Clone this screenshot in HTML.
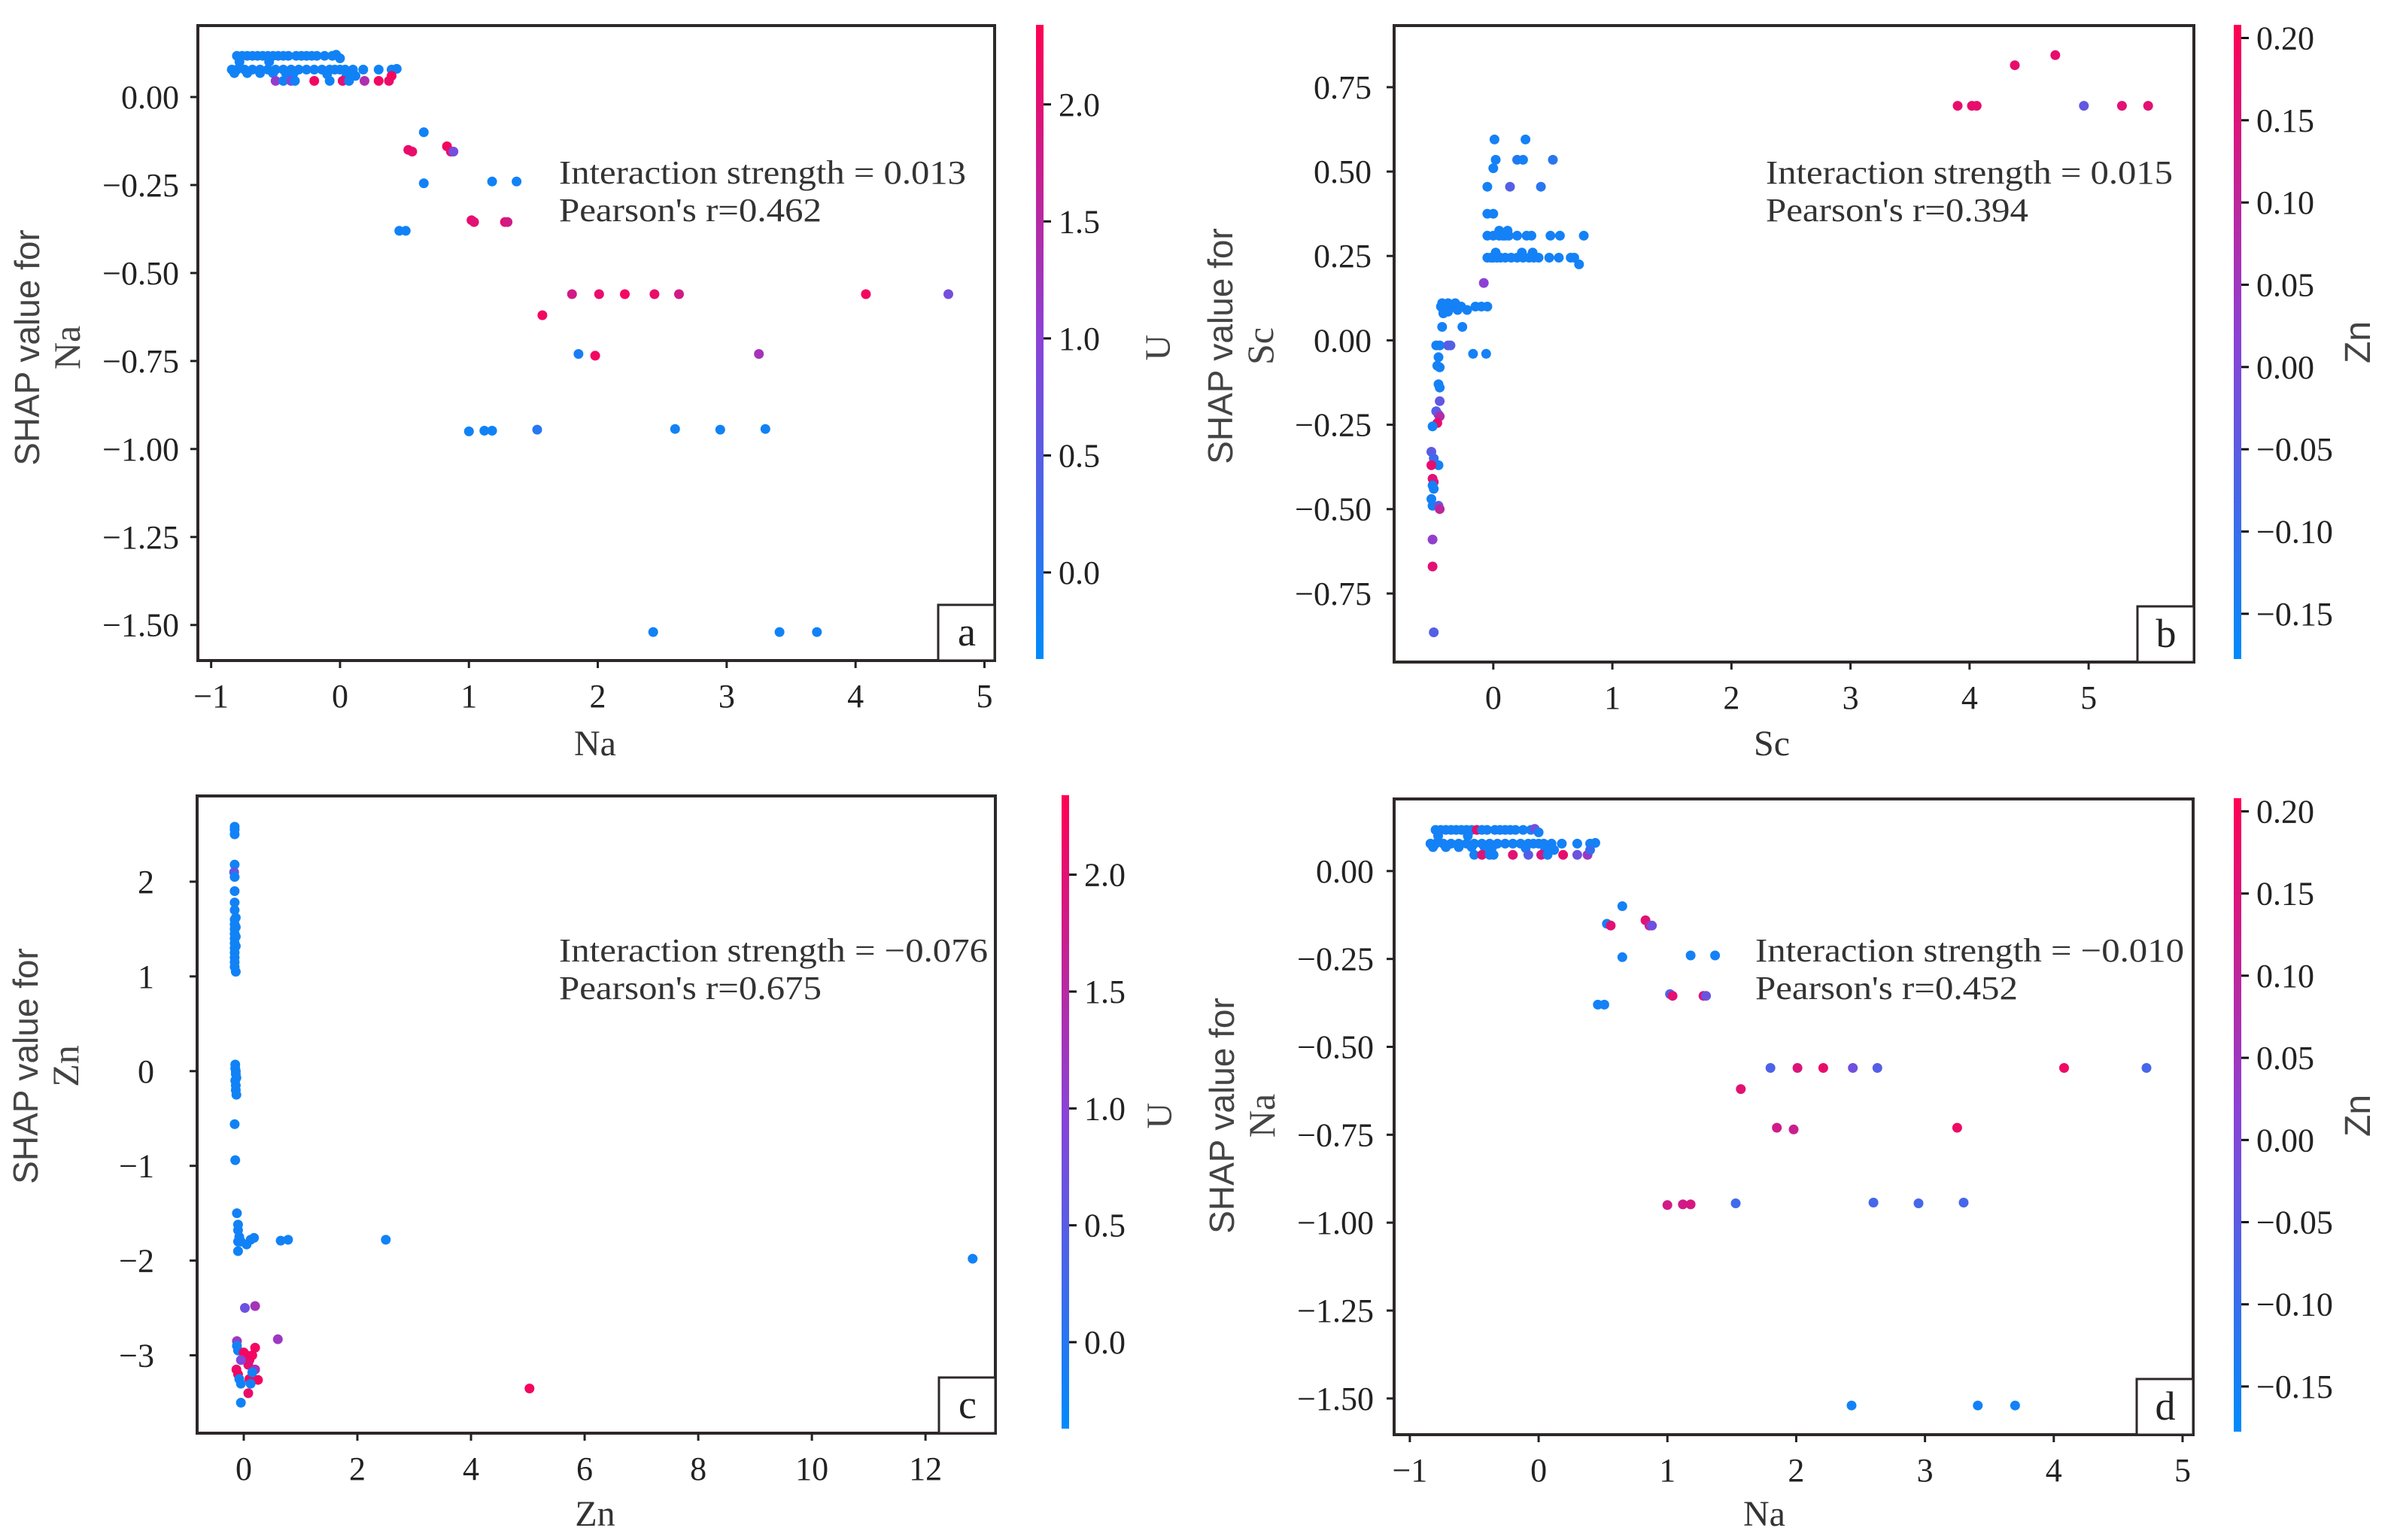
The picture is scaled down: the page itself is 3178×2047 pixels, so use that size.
<!DOCTYPE html>
<html><head><meta charset="utf-8"><title>SHAP dependence plots</title>
<style>
html,body{margin:0;padding:0;background:#fff;}
svg{display:block;}
</style></head>
<body>
<svg id="fig" xmlns="http://www.w3.org/2000/svg" width="3178" height="2047" viewBox="0 0 3178 2047">
<defs>
<linearGradient id="shapcm" x1="0" y1="1" x2="0" y2="0">
<stop offset="0" stop-color="rgb(0,139,251)"/>
<stop offset="0.5" stop-color="rgb(138,67,215)"/>
<stop offset="1" stop-color="rgb(255,0,82)"/>
</linearGradient>
</defs>
</svg>
<script>
// ---------- DATA ----------
const naX = [-0.80,-0.76,-0.72,-0.68,-0.64,-0.60,-0.56,-0.52,-0.48,-0.44,-0.40,-0.34,-0.30,-0.26,-0.22,-0.18,-0.12,-0.06,-0.03,0.0,
 -0.84,-0.80,-0.74,-0.68,-0.62,-0.56,-0.50,-0.44,-0.38,-0.32,-0.26,-0.20,-0.14,-0.08,-0.04,0.0,0.04,0.10,0.18,0.30,0.40,0.44,
 -0.82,-0.72,-0.62,-0.52,-0.42,-0.36,-0.10,0.05,0.12,-0.78,-0.55,
 -0.50,-0.44,-0.38,-0.35,-0.20,-0.08,0.02,0.07,0.19,0.30,0.38,0.40,
 0.65,0.53,0.56,0.83,0.86,0.88,0.65,1.18,1.37,0.46,0.51,1.02,1.04,1.28,1.30,
 1.80,2.01,2.21,2.44,2.63,4.08,4.72,1.57,1.85,1.98,3.25,
 1.00,1.12,1.18,1.53,2.60,2.95,3.30,2.43,3.41,3.70];
const naY = [0.117,0.117,0.117,0.117,0.117,0.117,0.117,0.117,0.117,0.117,0.117,0.117,0.117,0.117,0.117,0.117,0.117,0.117,0.12,0.11,
 0.078,0.078,0.078,0.078,0.078,0.078,0.078,0.078,0.078,0.078,0.078,0.078,0.078,0.078,0.078,0.078,0.078,0.078,0.078,0.078,0.078,0.08,
 0.068,0.068,0.068,0.068,0.068,0.068,0.065,0.06,0.06,0.10,0.10,
 0.046,0.046,0.046,0.046,0.046,0.046,0.046,0.046,0.046,0.046,0.046,0.06,
 -0.10,-0.15,-0.155,-0.14,-0.155,-0.155,-0.245,-0.24,-0.24,-0.38,-0.38,-0.35,-0.355,-0.355,-0.355,
 -0.56,-0.56,-0.56,-0.56,-0.56,-0.56,-0.56,-0.62,-0.73,-0.735,-0.73,
 -0.95,-0.948,-0.948,-0.945,-0.943,-0.945,-0.943,-1.52,-1.52,-1.52];
const naU = [-0.2,-0.2,-0.2,-0.2,-0.2,-0.2,-0.2,-0.2,-0.2,-0.2,-0.2,-0.2,-0.2,-0.2,-0.2,-0.2,-0.2,-0.2,-0.2,-0.2,
 -0.2,-0.2,-0.2,-0.2,-0.2,-0.2,-0.2,-0.2,-0.2,-0.2,-0.2,-0.2,-0.2,-0.2,-0.2,-0.2,-0.2,-0.2,-0.2,-0.2,-0.2,-0.2,
 -0.2,-0.2,-0.2,-0.2,-0.2,-0.2,-0.2,-0.2,-0.2,-0.2,-0.2,
 1.1,-0.2,0.9,-0.2,2.2,-0.2,2.0,-0.2,1.4,2.2,2.1,2.2,
 -0.2,2.1,2.1,2.2,2.0,0.8,-0.2,-0.2,-0.2,-0.2,-0.2,2.1,2.0,2.1,1.8,
 1.8,2.1,2.2,2.1,1.8,2.2,0.8,2.2,-0.1,2.2,1.3,
 -0.2,-0.2,-0.2,0.0,-0.2,-0.2,-0.2,-0.2,-0.2,-0.2];
const naZn = [-0.15,-0.15,-0.15,-0.15,-0.15,-0.15,-0.15,-0.15,0.17,-0.15,-0.15,-0.15,-0.15,-0.15,-0.15,-0.15,-0.15,-0.15,-0.02,-0.15,
 -0.15,-0.15,-0.15,-0.15,-0.15,-0.15,-0.15,-0.15,-0.15,-0.15,-0.15,-0.15,-0.15,-0.15,-0.15,-0.15,-0.15,-0.15,-0.15,-0.15,-0.15,-0.15,
 -0.15,-0.15,-0.15,-0.15,-0.15,-0.15,-0.15,-0.15,-0.15,-0.15,-0.15,
 -0.15,0.15,-0.15,-0.15,0.16,-0.06,0.14,-0.15,0.17,-0.03,0.05,-0.10,
 -0.15,-0.15,0.16,0.16,0.10,-0.02,-0.15,-0.15,-0.15,-0.15,-0.15,-0.07,0.16,0.15,-0.03,
 -0.07,0.15,0.17,-0.02,-0.06,0.18,-0.08,0.16,0.13,0.12,0.18,
 0.13,0.13,0.14,-0.09,-0.08,-0.08,-0.08,-0.15,-0.15,-0.15];
const scX = [3.90,4.02,4.06,4.38,4.72,4.96,5.28,5.50,
 0.01,0.27,0.02,0.20,0.25,0.50,0.00,-0.05,0.14,0.40,-0.05,0.00,
 -0.05,0.0,0.05,0.08,0.10,0.13,0.20,0.28,0.32,0.48,0.56,0.76,0.05,0.12,
 -0.05,-0.02,0.0,0.03,0.06,0.10,0.15,0.20,0.25,0.30,0.34,0.38,0.47,0.55,0.65,0.68,0.72,0.02,0.24,0.33,
 -0.08,
 -0.44,-0.43,-0.42,-0.40,-0.38,-0.35,-0.32,-0.30,-0.27,-0.22,-0.15,-0.10,-0.05,-0.42,-0.38,
 -0.43,-0.26,-0.17,-0.06,-0.48,-0.45,-0.38,-0.36,-0.46,-0.47,-0.45,-0.46,-0.45,
 -0.45,-0.48,-0.46,-0.45,-0.47,-0.51,-0.52,-0.50,-0.46,-0.52,-0.51,-0.50,-0.51,-0.50,-0.52,-0.51,-0.46,-0.45,-0.51,-0.51,-0.50];
const scY = [0.695,0.695,0.695,0.815,0.845,0.695,0.695,0.695,
 0.595,0.595,0.535,0.535,0.535,0.535,0.51,0.455,0.455,0.455,0.375,0.375,
 0.31,0.31,0.31,0.31,0.31,0.31,0.31,0.31,0.31,0.31,0.31,0.31,0.325,0.325,
 0.245,0.245,0.245,0.245,0.245,0.245,0.245,0.245,0.245,0.245,0.245,0.245,0.245,0.245,0.245,0.245,0.225,0.26,0.26,0.26,
 0.17,
 0.10,0.11,0.09,0.10,0.11,0.10,0.11,0.09,0.10,0.09,0.10,0.10,0.10,0.08,0.085,
 0.04,0.04,-0.04,-0.04,-0.015,-0.015,-0.015,-0.015,-0.05,-0.075,-0.08,-0.13,-0.14,
 -0.18,-0.21,-0.22,-0.225,-0.245,-0.255,-0.33,-0.35,-0.37,-0.37,-0.41,-0.42,-0.43,-0.44,-0.47,-0.49,-0.49,-0.50,-0.59,-0.67,-0.865];
const scZn = [0.17,0.17,0.17,0.17,0.17,-0.04,0.16,0.16,
 -0.15,-0.15,-0.15,-0.13,-0.15,-0.12,-0.15,-0.15,-0.06,-0.12,-0.15,-0.15,
 -0.15,-0.15,-0.15,-0.15,-0.15,-0.15,-0.15,-0.15,-0.15,-0.15,-0.15,-0.15,-0.15,-0.15,
 -0.15,-0.15,-0.15,-0.15,-0.15,-0.15,-0.15,-0.15,-0.15,-0.15,-0.15,-0.15,-0.15,-0.15,-0.15,-0.15,-0.15,-0.15,-0.15,-0.15,
 0.02,
 -0.15,-0.15,-0.15,-0.15,-0.15,-0.15,-0.15,-0.15,-0.15,-0.15,-0.15,-0.15,-0.15,-0.15,-0.15,
 -0.15,-0.15,-0.15,-0.15,-0.15,-0.15,-0.06,-0.06,-0.15,-0.15,-0.15,-0.15,-0.15,
 -0.04,-0.06,-0.04,0.08,0.17,-0.15,-0.05,-0.09,-0.15,0.17,0.16,0.15,-0.15,-0.15,-0.15,-0.15,-0.05,0.10,0.03,0.16,-0.06];
const znX = [-0.16,-0.16,-0.16,-0.16,-0.17,-0.16,-0.16,-0.16,-0.16,-0.16,-0.16,-0.16,-0.16,-0.16,-0.16,-0.16,-0.16,-0.16,-0.16,-0.16,-0.14,-0.14,-0.14,-0.14,-0.14,
 -0.15,-0.15,-0.14,-0.14,-0.13,-0.15,-0.14,-0.14,-0.13,-0.16,-0.15,
 -0.12,-0.10,-0.10,-0.08,-0.10,-0.05,0.05,0.12,0.18,-0.10,0.65,0.78,2.50,12.83,
 0.02,0.20,0.60,-0.12,-0.12,-0.10,0.0,0.05,0.10,0.15,0.20,0.08,-0.05,-0.13,-0.10,-0.08,-0.05,0.10,0.25,0.20,0.15,0.12,0.08,-0.05,5.03];
const znY = [2.58,2.55,2.50,2.18,2.10,2.05,1.90,1.78,1.70,1.60,1.55,1.50,1.45,1.40,1.35,1.30,1.25,1.20,1.15,1.10,1.62,1.52,1.42,1.32,1.05,
 0.07,0.03,0.0,-0.03,-0.07,-0.10,-0.15,-0.20,-0.25,-0.56,-0.94,
 -1.50,-1.62,-1.68,-1.75,-1.80,-1.80,-1.83,-1.78,-1.76,-1.90,-1.79,-1.78,-1.78,-1.98,
 -2.50,-2.48,-2.83,-2.85,-2.90,-2.95,-2.97,-3.00,-3.05,-3.00,-2.92,-3.10,-3.05,-3.15,-3.20,-3.25,-3.30,-3.25,-3.26,-3.15,-3.18,-3.30,-3.40,-3.50,-3.35];
const znU = [-0.2,-0.2,-0.2,-0.2,0.6,-0.2,-0.2,-0.2,-0.2,-0.2,-0.2,-0.2,-0.2,-0.2,-0.2,-0.2,-0.2,-0.2,-0.2,-0.2,-0.2,-0.2,-0.2,-0.2,-0.2,
 -0.2,-0.2,-0.2,-0.2,-0.2,-0.2,-0.2,-0.2,-0.2,-0.2,-0.2,
 -0.2,-0.2,-0.2,-0.2,-0.2,-0.2,-0.2,-0.2,-0.2,-0.2,-0.2,-0.2,-0.2,-0.2,
 0.7,1.3,1.2,1.2,-0.2,-0.2,2.2,2.2,2.1,2.2,2.2,2.0,0.9,2.1,2.2,-0.2,-0.2,2.2,2.2,1.3,-0.2,-0.2,2.1,-0.2,2.2];
const tickNa = [-1,0,1,2,3,4,5];
const tickNaY = [0.00,-0.25,-0.50,-0.75,-1.00,-1.25,-1.50];
const tickSc = [0,1,2,3,4,5];
const tickScY = [0.75,0.50,0.25,0.00,-0.25,-0.50,-0.75];
const tickZn = [0,2,4,6,8,10,12];
const tickZnY = [2,1,0,-1,-2,-3];
const tickU = [0.0,0.5,1.0,1.5,2.0];
const tickZnC = [0.20,0.15,0.10,0.05,0.00,-0.05,-0.10,-0.15];

// ---------- RENDERING ----------
const NS = "http://www.w3.org/2000/svg";
const svg = document.getElementById("fig");
const SERIF = '"Liberation Serif", "DejaVu Serif", serif';
const SANS = '"Liberation Sans", "DejaVu Sans", sans-serif';
function mk(tag, attrs, parent) {
  const e = document.createElementNS(NS, tag);
  for (const k in attrs) e.setAttribute(k, attrs[k]);
  (parent || svg).appendChild(e);
  return e;
}
function fmt(v, d) {
  const s = Math.abs(v).toFixed(d);
  return (v < 0 && Math.abs(v) > 1e-9 ? "\u2212" : "") + s;
}
function cmap(t) {
  t = Math.max(0, Math.min(1, t));
  const a = [0,139,251], m = [138,67,215], b = [255,0,82];
  let c;
  if (t < 0.5) { const u = t / 0.5; c = a.map((v, i) => v + (m[i] - v) * u); }
  else { const u = (t - 0.5) / 0.5; c = m.map((v, i) => v + (b[i] - v) * u); }
  return "rgb(" + c.map(Math.round).join(",") + ")";
}

function panel(p) {
  const g = mk("g", {});
  
  
  const sx = v => p.L + (v - p.xmin) / (p.xmax - p.xmin) * (p.R - p.L);
  const sy = v => p.B - (v - p.ymin) / (p.ymax - p.ymin) * (p.B - p.T);
  const cs = v => p.cBot - (v - p.cmin) / (p.cmax - p.cmin) * (p.cBot - p.cTop);

  const pts = mk("g", {}, g);
  
  
  for (let i = 0; i < p.xs.length; i++) {
    const c = mk("circle", { cx: sx(p.xs[i]).toFixed(1), cy: sy(p.ys[i]).toFixed(1), r: 6.5, fill: cmap((p.cs[i] - p.cmin) / (p.cmax - p.cmin)) }, pts);
    
    
  }
  const fr = mk("rect", { x: p.L, y: p.T, width: p.R - p.L, height: p.B - p.T, fill: "none", stroke: "#2e2828", "stroke-width": 4 }, g);
  
  
  const xt = mk("g", {}, g);
  
  
  p.xticks.forEach(v => {
    const x = sx(v);
    mk("line", { x1: x, x2: x, y1: p.B, y2: p.B + 10, stroke: "#222", "stroke-width": 3 }, xt);
    const t = mk("text", { x: x, y: p.B + 62, "text-anchor": "middle", "font-family": SERIF, "font-size": 44, fill: "#222" }, xt);
    t.textContent = fmt(v, 0);
    
    
  });
  const yt = mk("g", {}, g);
  
  
  p.yticks.forEach(v => {
    const y = sy(v);
    mk("line", { x1: p.L - 10, x2: p.L, y1: y, y2: y, stroke: "#222", "stroke-width": 3 }, yt);
    const t = mk("text", { x: p.yLabEnd, y: y + 15, "text-anchor": "end", "font-family": SERIF, "font-size": 44, fill: "#222" }, yt);
    t.textContent = fmt(v, p.ydec);
    
    
  });
  const xl = mk("text", { x: p.xlabX, y: p.xlabY, "text-anchor": "middle", "font-family": SERIF, "font-size": 48, fill: "#333" }, g);
  xl.textContent = p.feat;
  
  
  const yl = mk("text", { transform: "translate(" + p.ylabX + "," + p.ylabY + ") rotate(-90)", "text-anchor": "middle", "font-family": SANS, "font-size": 46, fill: "#444" }, g);
  yl.textContent = "SHAP value for";
  
  
  const yl2 = mk("text", { transform: "translate(" + (p.ylabX + 54) + "," + p.ylabY + ") rotate(-90)", "text-anchor": "middle", "font-family": SERIF, "font-size": 50, fill: "#444" }, g);
  yl2.textContent = p.feat;
  
  
  const a1 = mk("text", { x: p.annX, y: p.annY, "font-family": SERIF, "font-size": 44, fill: "#333", textLength: p.annW1, lengthAdjust: "spacingAndGlyphs" }, g);
  a1.textContent = "Interaction strength = " + p.inter;
  
  
  const a2 = mk("text", { x: p.annX, y: p.annY + 50, "font-family": SERIF, "font-size": 44, fill: "#333", textLength: p.annW2, lengthAdjust: "spacingAndGlyphs" }, g);
  a2.textContent = "Pearson's r=" + p.pearson;
  
  
  const lb = mk("rect", { x: p.R - 75, y: p.B - 74, width: 75, height: 74, fill: "#fff", stroke: "#2e2828", "stroke-width": 3 }, g);
  
  
  const lt = mk("text", { x: p.R - 37, y: p.B - 20, "text-anchor": "middle", "font-family": SERIF, "font-size": 54, fill: "#222" }, g);
  lt.textContent = p.letter;
  
  
  const cb = mk("rect", { x: p.cX, y: p.cTop, width: 10, height: p.cBot - p.cTop, fill: "url(#shapcm)" }, g);
  
  
  p.cticks.forEach(v => {
    const y = cs(v);
    mk("line", { x1: p.cX + 10, x2: p.cX + 20, y1: y, y2: y, stroke: "#111", "stroke-width": 3 }, g);
    const t = mk("text", { x: p.cX + 30, y: y + 15, "font-family": SERIF, "font-size": 44, fill: "#222" }, g);
    t.textContent = fmt(v, p.cdec);
    
    
  });
  const ct = mk("text", { transform: "translate(" + p.cLabX + "," + p.cLabY + ") rotate(-90)", "text-anchor": "middle", "font-family": p.cFont, "font-size": 48, fill: "#444" }, g);
  ct.textContent = p.cname;
  
  
}

panel({ letter: "a", feat: "Na", xs: naX, ys: naY, cs: naU, cmin: -0.37, cmax: 2.34,
  L: 263, R: 1322, T: 34, B: 878, xmin: -1.103, xmax: 5.079, ymin: -1.601, ymax: 0.203,
  xticks: tickNa, yticks: tickNaY, ydec: 2, yLabEnd: 238,
  xlabX: 791, xlabY: 1004, ylabX: 52, ylabY: 462,
  annX: 743, annY: 244, annW1: 541, annW2: 349, inter: "0.013", pearson: "0.462",
  cX: 1377, cTop: 33, cBot: 876, cticks: tickU, cdec: 1, cname: "U", cFont: SERIF, cLabX: 1555, cLabY: 462 });
panel({ letter: "b", feat: "Sc", xs: scX, ys: scY, cs: scZn, cmin: -0.1775, cmax: 0.208,
  L: 1853, R: 2916, T: 34, B: 880, xmin: -0.833, xmax: 5.884, ymin: -0.953, ymax: 0.9325,
  xticks: tickSc, yticks: tickScY, ydec: 2, yLabEnd: 1823,
  xlabX: 2355, xlabY: 1004, ylabX: 1638, ylabY: 460,
  annX: 2347, annY: 244, annW1: 541, annW2: 349, inter: "0.015", pearson: "0.394",
  cX: 2969, cTop: 33, cBot: 876, cticks: tickZnC, cdec: 2, cname: "Zn", cFont: SANS, cLabX: 3150, cLabY: 455 });
panel({ letter: "c", feat: "Zn", xs: znX, ys: znY, cs: znU, cmin: -0.37, cmax: 2.34,
  L: 262, R: 1323, T: 1058, B: 1905, xmin: -0.821, xmax: 13.23, ymin: -3.822, ymax: 2.905,
  xticks: tickZn, yticks: tickZnY, ydec: 0, yLabEnd: 205,
  xlabX: 791, xlabY: 2028, ylabX: 50, ylabY: 1417,
  annX: 743, annY: 1278, annW1: 570, annW2: 349, inter: "\u22120.076", pearson: "0.675",
  cX: 1411, cTop: 1057, cBot: 1899, cticks: tickU, cdec: 1, cname: "U", cFont: SERIF, cLabX: 1557, cLabY: 1483 });
panel({ letter: "d", feat: "Na", xs: naX, ys: naY, cs: naZn, cmin: -0.1775, cmax: 0.208,
  L: 1853, R: 2915, T: 1062, B: 1907, xmin: -1.122, xmax: 5.082, ymin: -1.603, ymax: 0.205,
  xticks: tickNa, yticks: tickNaY, ydec: 2, yLabEnd: 1826,
  xlabX: 2345, xlabY: 2028, ylabX: 1640, ylabY: 1483,
  annX: 2333, annY: 1278, annW1: 570, annW2: 349, inter: "\u22120.010", pearson: "0.452",
  cX: 2969, cTop: 1061, cBot: 1903, cticks: tickZnC, cdec: 2, cname: "Zn", cFont: SANS, cLabX: 3150, cLabY: 1483 });
</script>
</body></html>
